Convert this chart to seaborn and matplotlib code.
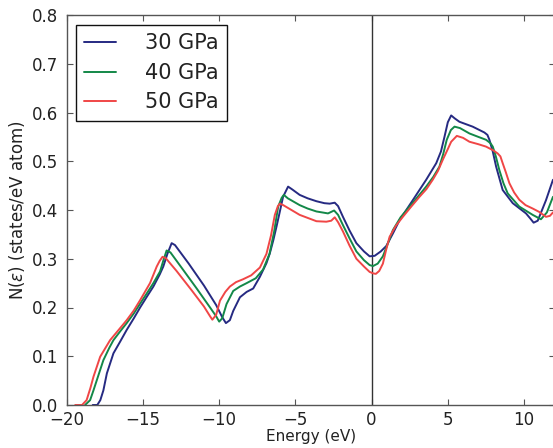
import matplotlib
matplotlib.use("Agg")
import matplotlib.pyplot as plt
import seaborn as sns
import pandas as pd

# Density of states at three pressures (energy in eV, N in states/eV atom)
e_30 = [-18.3, -18.0, -17.8, -17.6, -17.37, -16.94, -16.5, -16.07, -15.6, -15.19,
        -14.75, -14.32, -13.9, -13.67, -13.4, -13.12, -12.9, -12.0, -11.0, -10.2,
        -9.8, -9.56, -9.3, -9.08, -8.64, -8.2, -7.77, -7.33, -6.9, -6.68, -6.45,
        -6.24, -6.02, -5.81, -5.48, -5.2, -4.72, -4.2, -3.62, -3.1, -2.75, -2.42,
        -2.2, -1.88, -1.45, -1.0, -0.5, -0.13, 0.2, 0.6, 0.96, 1.4, 1.83, 2.7,
        3.58, 4.24, 4.55, 4.78, 5.0, 5.22, 5.45, 5.76, 6.63, 7.4, 7.6, 7.73,
        7.95, 8.17, 8.6, 9.26, 10.13, 10.4, 10.63, 10.9, 11.44, 11.9]
n_30 = [0.0, 0.0, 0.01, 0.03, 0.065, 0.106, 0.130, 0.154, 0.178, 0.200,
        0.222, 0.243, 0.268, 0.284, 0.310, 0.332, 0.328, 0.290, 0.245, 0.205,
        0.180, 0.168, 0.174, 0.193, 0.221, 0.232, 0.239, 0.263, 0.291, 0.311, 0.338,
        0.366, 0.397, 0.427, 0.448, 0.442, 0.431, 0.424, 0.418, 0.414, 0.413, 0.415,
        0.408, 0.386, 0.358, 0.332, 0.315, 0.305, 0.306, 0.315, 0.326, 0.352, 0.379, 0.420,
        0.462, 0.496, 0.520, 0.550, 0.580, 0.594, 0.588, 0.581, 0.571, 0.559, 0.554, 0.544,
        0.520, 0.489, 0.441, 0.414, 0.393, 0.383, 0.374, 0.378, 0.420, 0.462]

e_40 = [-18.8, -18.47, -18.25, -18.03, -17.6, -17.2, -16.94, -16.5, -16.07, -15.6,
        -15.19, -14.75, -14.32, -13.88, -13.65, -13.45, -13.2, -12.5, -11.5, -10.6,
        -10.2, -10.0, -9.8, -9.52, -9.08, -8.64, -8.2, -7.6, -7.12, -6.7, -6.4,
        -6.13, -5.9, -5.76, -5.5, -4.72, -4.2, -3.62, -2.86, -2.46, -2.2, -1.88,
        -1.45, -1.0, -0.5, -0.13, 0.09, 0.4, 0.74, 1.05, 1.4, 1.9, 2.49, 3.0,
        3.58, 4.05, 4.45, 4.7, 4.93, 5.2, 5.44, 5.8, 6.42, 7.0, 7.51, 7.8, 7.95,
        8.15, 8.38, 8.65, 8.93, 9.69, 10.57, 11.11, 11.5, 11.9]
n_40 = [0.0, 0.01, 0.03, 0.051, 0.092, 0.118, 0.133, 0.151, 0.168, 0.188,
        0.208, 0.229, 0.250, 0.274, 0.298, 0.317, 0.313, 0.283, 0.240, 0.200,
        0.182, 0.171, 0.178, 0.207, 0.234, 0.243, 0.250, 0.260, 0.278, 0.310, 0.355,
        0.407, 0.425, 0.431, 0.424, 0.410, 0.403, 0.397, 0.393, 0.399, 0.390, 0.369,
        0.342, 0.315, 0.297, 0.287, 0.285, 0.290, 0.305, 0.330, 0.359, 0.385, 0.407, 0.426,
        0.448, 0.468, 0.489, 0.515, 0.544, 0.564, 0.571, 0.568, 0.557, 0.550, 0.544, 0.537, 0.530,
        0.510, 0.482, 0.455, 0.434, 0.407, 0.390, 0.381, 0.395, 0.427]

e_50 = [-19.45, -19.0, -18.7, -18.45, -18.25, -17.81, -17.16, -16.6, -16.07, -15.6,
        -15.19, -14.54, -14.1, -13.9, -13.72, -13.5, -12.8, -11.8, -11.0, -10.6,
        -10.45, -10.2, -9.95, -9.6, -9.3, -8.9, -8.43, -7.9, -7.33, -6.9, -6.6,
        -6.35, -6.15, -6.02, -5.8, -4.72, -3.62, -2.97, -2.65, -2.42, -2.2, -1.88,
        -1.45, -1.0, -0.5, -0.13, 0.1, 0.28, 0.5, 0.74, 0.95, 1.18, 1.6, 2.05,
        2.6, 3.14, 3.6, 4.01, 4.35, 4.67, 5.0, 5.22, 5.59, 6.0, 6.42, 7.0, 7.51,
        8.0, 8.27, 8.45, 8.6, 8.8, 9.04, 9.35, 9.69, 10.1, 10.57, 11.0, 11.44, 11.7, 11.9]
n_50 = [0.0, 0.0, 0.01, 0.035, 0.058, 0.099, 0.133, 0.154, 0.174, 0.194,
        0.215, 0.250, 0.284, 0.296, 0.304, 0.301, 0.275, 0.235, 0.202, 0.182,
        0.175, 0.185, 0.214, 0.232, 0.243, 0.252, 0.258, 0.266, 0.282, 0.310, 0.348,
        0.390, 0.408, 0.413, 0.410, 0.390, 0.377, 0.376, 0.378, 0.385, 0.375, 0.356,
        0.327, 0.300, 0.284, 0.273, 0.270, 0.269, 0.275, 0.290, 0.318, 0.345, 0.368, 0.386,
        0.407, 0.427, 0.443, 0.462, 0.480, 0.503, 0.525, 0.540, 0.552, 0.548, 0.540, 0.535, 0.530,
        0.522, 0.516, 0.510, 0.496, 0.478, 0.455, 0.436, 0.421, 0.410, 0.403, 0.396, 0.386, 0.388, 0.395]

labels = ["30 GPa", "40 GPa", "50 GPa"]
colors = ["#262a82", "#138848", "#f04646"]

x_ticks = [-20, -15, -10, -5, 0, 5, 10]
y_ticks = [0.0, 0.1, 0.2, 0.3, 0.4, 0.5, 0.6, 0.7, 0.8]

sns.set_style("ticks", {"xtick.direction": "in", "ytick.direction": "in",
                        "axes.edgecolor": "#555555"})
plt.rcParams["font.family"] = ["DejaVu Sans"]
plt.rcParams["text.color"] = "#222222"
plt.rcParams["axes.labelcolor"] = "#222222"
plt.rcParams["xtick.color"] = "#555555"
plt.rcParams["ytick.color"] = "#555555"
plt.rcParams["xtick.labelcolor"] = "#222222"
plt.rcParams["ytick.labelcolor"] = "#222222"

frames = []
for e, n, lab in zip([e_30, e_40, e_50], [n_30, n_40, n_50], labels):
    frames.append(pd.DataFrame({"energy": e, "dos": n, "pressure": lab}))
df = pd.concat(frames, ignore_index=True)

fig = plt.figure(figsize=(5.53, 4.48), dpi=100)
ax = fig.add_axes([66.8 / 553, 43 / 448, (554.5 - 66.8) / 553, 390 / 448])

sns.lineplot(data=df, x="energy", y="dos", hue="pressure", hue_order=labels,
             palette=colors, sort=False, estimator=None, linewidth=1.4, ax=ax)

ax.axvline(0, color="#333333", linewidth=1.0, zorder=1)

ax.set_xlim(-20, 12)
ax.set_ylim(0, 0.8)
ax.set_xticks(x_ticks)
ax.set_xticklabels([("\u2212" + str(abs(v))) if v < 0 else str(v) for v in x_ticks])
ax.set_yticks(y_ticks)
ax.set_yticklabels([f"{v:.1f}" for v in y_ticks])
ax.tick_params(axis="both", which="both", top=True, right=True,
               length=4, width=0.8, labelsize=12)
ax.tick_params(axis="x", pad=4)
ax.tick_params(axis="y", pad=6)
for sp in ax.spines.values():
    sp.set_visible(True)
    sp.set_linewidth(1.0)

ax.set_xlabel("Energy (eV)", fontsize=11, labelpad=0)
ax.set_ylabel(r"N($\epsilon$) (states/eV atom)", fontsize=12, labelpad=4)

leg = ax.legend(loc="upper left", bbox_to_anchor=(0.019, 0.974), borderaxespad=0,
                fontsize=15, frameon=True, fancybox=False, handlelength=1.5,
                handletextpad=1.4, labelspacing=0.45, borderpad=0.4)
leg.get_frame().set_edgecolor("#111111")
leg.get_frame().set_linewidth(1.0)
leg.get_frame().set_alpha(1)
for line in leg.get_lines():
    line.set_linewidth(1.4)

fig.savefig("out.png", dpi=100)
